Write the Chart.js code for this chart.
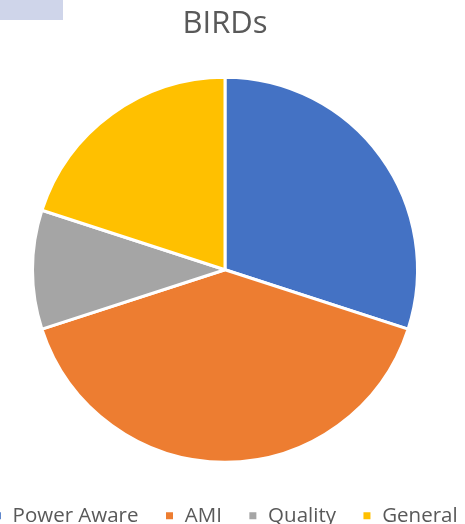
<!DOCTYPE html>
<html>
<head>
<meta charset="utf-8">
<script src="https://cdn.jsdelivr.net/npm/chart.js@4"></script>
<style>
html,body{margin:0;padding:0;background:#fff;overflow:hidden;width:465px;height:524px;}
#wrap{position:relative;width:465px;height:524px;overflow:hidden;}
#tab{position:absolute;left:0;top:0;width:63px;height:20px;background:#cfd5ea;}
canvas{position:absolute;left:-48px;top:0;}
</style>
</head>
<body>
<div id="wrap">
<canvas id="c" width="560" height="536"></canvas>
<div id="tab"></div>
</div>
<script>
const categories = ["Power Aware", "AMI", "Quality", "General"];
const values = [30, 40, 10, 20];
const colors = ["#4472C4", "#ED7D31", "#A5A5A5", "#FFC000"];
const chartTitle = "BIRDs";

new Chart(document.getElementById('c'), {
  type: 'pie',
  data: {
    labels: categories,
    datasets: [{
      data: values,
      backgroundColor: colors,
      borderColor: '#ffffff',
      borderWidth: 3,
      hoverOffset: 0,
      radius: 192.5
    }]
  },
  options: {
    responsive: false,
    animation: false,
    devicePixelRatio: 1,
    layout: { padding: { left: 0, right: 14, top: 0, bottom: 0 } },
    plugins: {
      tooltip: { enabled: false },
      title: {
        display: true,
        text: chartTitle,
        color: '#595959',
        font: { family: 'Open Sans', size: 31, weight: 'normal' },
        padding: { top: 6, bottom: 16.7 }
      },
      legend: {
        display: true,
        position: 'bottom',
        labels: {
          color: '#595959',
          font: { family: 'Open Sans', size: 20.5 },
          boxWidth: 10,
          boxHeight: 10,
          padding: 26
        }
      }
    }
  }
});
</script>
</body>
</html>
